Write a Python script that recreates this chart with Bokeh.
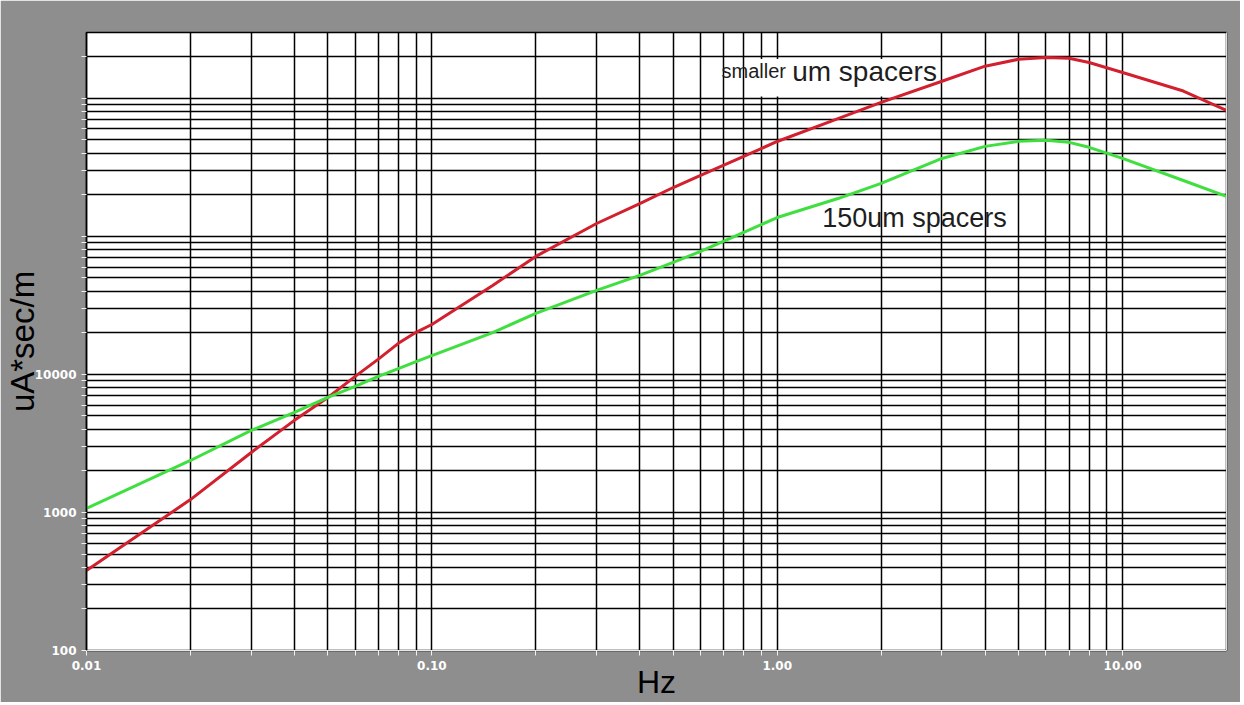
from bokeh.plotting import figure
from bokeh.models import (Range1d, FixedTicker, PrintfTickFormatter, Label,
                          BoxAnnotation, LogAxis)
from bokeh.embed import file_html
from bokeh.resources import INLINE

# ---- data ----
freq_hz = [0.01, 0.02, 0.03, 0.04, 0.05, 0.06, 0.07, 0.08, 0.09, 0.1,
           0.15, 0.2, 0.3, 0.4, 0.5, 0.6, 0.8, 1.0, 1.5,
           2.0, 3.0, 4.0, 5.0, 6.0, 7.0, 8.0, 10.0, 15.0, 20.0]
smaller_spacers = [380, 1240, 2720, 4650, 6810, 9680, 12900, 16800, 20200, 23000,
                   44100, 71600, 124000, 173000, 226000, 277000, 380000, 487000, 714000,
                   936000, 1330000, 1710000, 1920000, 1980000, 1950000, 1820000,
                   1540000, 1130000, 818000]
spacers_150um = [1070, 2380, 3930, 5300, 6810, 8190, 9680, 11000, 12400, 13700,
                 20100, 27700, 40600, 52200, 64800, 77900, 107000, 137000, 188000,
                 242000, 367000, 449000, 488000, 497000, 480000, 442000,
                 367000, 254000, 195000]

x_major_ticks = [0.01, 0.1, 1.0, 10.0]
x_minor_ticks = [m * d for d in (0.01, 0.1, 1.0) for m in range(2, 10)]
y_major_ticks = [100, 1000, 10000]
y_minor_ticks = ([m * d for d in (100, 1000, 10000, 100000) for m in range(2, 10)]
                 + [100000, 1000000, 2000000])

FONT = "Liberation Sans"
TICK_FONT = "DejaVu Sans"

p = figure(width=1240, height=702, x_axis_type="log", y_axis_type="log",
           x_range=Range1d(0.01, 20), y_range=Range1d(100, 3.0e6),
           output_backend="svg", toolbar_location=None,
           min_border_left=86, min_border_right=14, min_border_top=32,
           min_border_bottom=52,
           background_fill_color="white", border_fill_color="#8e8e8e",
           outline_line_color="black", outline_line_width=1.5)

xt = FixedTicker(ticks=x_major_ticks, minor_ticks=x_minor_ticks)
yt = FixedTicker(ticks=y_major_ticks, minor_ticks=y_minor_ticks)
p.xaxis.ticker = xt
p.yaxis.ticker = yt
p.xgrid.ticker = xt
p.ygrid.ticker = yt
p.xaxis.formatter = PrintfTickFormatter(format="%.2f")
p.yaxis.formatter = PrintfTickFormatter(format="%d")

for g in (p.xgrid, p.ygrid):
    g.grid_line_color = "black"
    g.grid_line_width = 1.5
    g.minor_grid_line_color = "black"
    g.minor_grid_line_width = 1.5

for ax in (p.xaxis, p.yaxis):
    ax.major_label_text_color = "white"
    ax.major_label_text_font = TICK_FONT
    ax.major_label_text_font_style = "bold"
    ax.major_label_text_font_size = "12px"
    ax.major_tick_line_color = "#f0f0f0"
    ax.minor_tick_line_color = "#f0f0f0"
    ax.major_tick_out = 5
    ax.minor_tick_out = 5
    ax.major_tick_in = 0
    ax.minor_tick_in = 0
    ax.axis_label_text_font = FONT
    ax.axis_label_text_font_style = "normal"
    ax.axis_label_text_color = "black"

p.xaxis.axis_line_color = "#e8e8e8"
p.xaxis.axis_label = "Hz"
p.xaxis.axis_label_text_font_size = "32px"
p.xaxis.axis_label_standoff = -9
p.xaxis.major_label_standoff = 5

p.yaxis.axis_line_color = "black"
p.yaxis.axis_line_width = 1.5
p.yaxis.axis_label = "uA*sec/m"
p.yaxis.axis_label_text_font_size = "33px"
p.yaxis.axis_label_standoff = -9
p.yaxis.major_label_standoff = 5

right_axis = LogAxis(ticker=FixedTicker(ticks=[]), major_label_text_font_size="0px",
                     axis_line_color="#e0e0e0", major_tick_line_color=None,
                     minor_tick_line_color=None)
p.add_layout(right_axis, "right")

# white box behind the upper label
p.add_layout(BoxAnnotation(left=0.84, right=2.9, bottom=1.03e6, top=1.93e6,
                           fill_color="white", fill_alpha=1.0, line_color=None,
                           level="underlay"))

p.line(freq_hz, smaller_spacers, line_color="#d3202e", line_width=3)
p.line(freq_hz, spacers_150um, line_color="#3fdf3f", line_width=3)

p.add_layout(Label(x=0.69, y=1.57e6, text="smaller", text_font=FONT,
                   text_font_size="20px", text_color="#1e1e1e",
                   text_baseline="alphabetic"))
p.add_layout(Label(x=1.105, y=1.57e6, text="um spacers", text_font=FONT,
                   text_font_size="28px", text_color="#1e1e1e",
                   text_baseline="alphabetic"))
p.add_layout(Label(x=1.35, y=1.37e5, text="150um spacers", text_font=FONT,
                   text_font_size="27px", text_color="#1e1e1e",
                   text_baseline="alphabetic"))

open("out.html", "w").write(file_html(p, INLINE))
